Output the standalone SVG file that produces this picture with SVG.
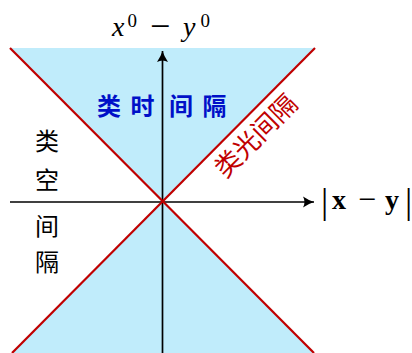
<svg xmlns="http://www.w3.org/2000/svg" width="412" height="353" viewBox="0 0 412 353">
<defs>
<style>
.cone{fill:#c0ecfb;stroke:none}
.light{stroke:#c00000;stroke-width:2.2;fill:none}
.axis{stroke:#000;stroke-width:1.7;fill:none}
.math{font-family:"Liberation Serif","DejaVu Serif",serif;fill:#000}
.cjk{font-family:"Noto Sans CJK SC","Noto Sans",sans-serif;text-anchor:middle}
.tl{fill:#0010c8;font-size:24px;font-weight:bold}
.sl{fill:#000;font-size:24px}
.ll{fill:#c00000;font-size:26px}
</style>
<marker id="arr" viewBox="-12 -6 14 12" markerWidth="14" markerHeight="12" refX="0" refY="0" orient="auto" markerUnits="userSpaceOnUse">
<path d="M-11,-5.5 Q-5,-1.5 0,0 Q-5,1.5 -11,5.5 Q-8,0 -11,-5.5 Z" fill="#000"/>
</marker>
</defs>
<rect width="412" height="353" fill="#fff"/>
<g id="timelike-region">
<polygon class="cone" points="10,48 315,48 162.5,202"/>
<polygon class="cone" points="162.5,202 12,353 314,353"/>
</g>
<g id="connectors">
<line class="axis" x1="10" y1="202" x2="314" y2="202" marker-end="url(#arr)"/>
<line class="axis" x1="162.5" y1="353" x2="162.5" y2="51" marker-end="url(#arr)"/>
<line class="light" x1="10" y1="48" x2="314" y2="353"/>
<line class="light" x1="315" y1="48" x2="12" y2="353"/>
</g>
<g id="label-time-axis">
<text class="math" y="36" font-size="28"><tspan x="112" font-style="italic">x</tspan><tspan x="127.5" y="27" font-size="19">0</tspan><tspan x="150" y="38" font-size="36">−</tspan><tspan x="183" y="36" font-style="italic">y</tspan><tspan x="200.5" y="27" font-size="19">0</tspan></text>
</g>
<g id="label-space-axis">
<text class="math" y="209" font-size="28"><tspan x="321" y="213" font-size="36">|</tspan><tspan x="332" y="209" font-weight="bold">x</tspan><tspan x="358" y="210" font-size="32">−</tspan><tspan x="385" y="209" font-weight="bold">y</tspan><tspan x="405" y="213" font-size="36">|</tspan></text>
</g>
<g id="label-timelike" class="cjk tl">
<text x="109" y="115">类</text>
<text x="142.5" y="115">时</text>
<text x="181" y="115">间</text>
<text x="214.5" y="115">隔</text>
</g>
<g id="label-spacelike" class="cjk sl">
<text x="47" y="150">类</text>
<text x="47" y="189">空</text>
<text x="47" y="235">间</text>
<text x="47" y="271">隔</text>
</g>
<g id="label-lightlike" class="cjk ll">
<text x="256" y="145" transform="rotate(-45 256 136)">类光间隔</text>
</g>
</svg>
